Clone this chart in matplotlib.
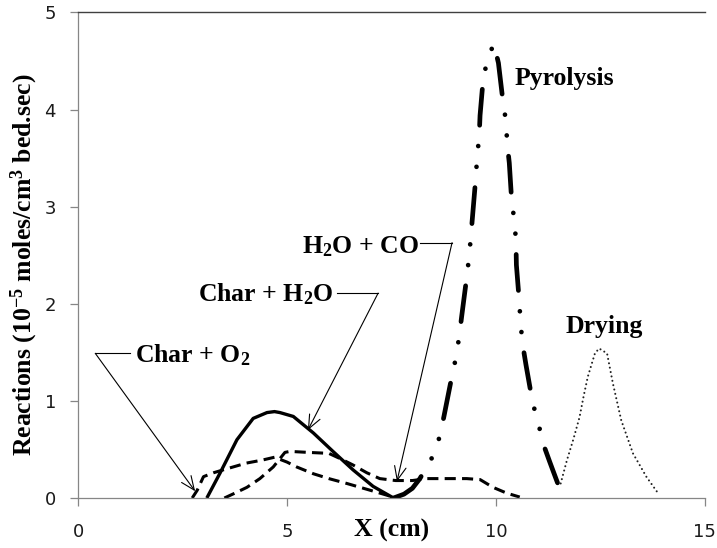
import matplotlib
matplotlib.use("Agg")
import matplotlib.pyplot as plt

# ---- data (x in cm, rate in 1e-5 moles/cm3 bed.sec) ----
char_o2_x = [2.73, 2.85, 3.0, 3.24, 3.55, 4.03, 4.4, 4.7, 5.0, 5.23, 5.63, 6.0, 6.43, 7.07, 7.54]
char_o2_y = [0.0, 0.08, 0.22, 0.26, 0.30, 0.36, 0.39, 0.42, 0.37, 0.32, 0.25, 0.20, 0.15, 0.07, 0.01]

char_h2o_x = [3.08, 3.4, 3.8, 4.19, 4.52, 4.7, 4.83, 5.15, 5.63, 6.1, 6.58, 7.06, 7.55]
char_h2o_y = [0.0, 0.26, 0.60, 0.82, 0.88, 0.89, 0.88, 0.84, 0.67, 0.48, 0.29, 0.12, 0.0]

h2o_co_x = [3.5, 3.75, 4.04, 4.35, 4.67, 4.95, 5.07, 5.5, 6.0, 6.3, 6.58, 6.91, 7.22,
            7.6, 8.0, 8.35, 8.74, 9.3, 9.62, 9.93, 10.26, 10.57]
h2o_co_y = [0.0, 0.05, 0.11, 0.20, 0.32, 0.47, 0.48, 0.47, 0.46, 0.40, 0.34, 0.26, 0.20,
            0.18, 0.18, 0.20, 0.20, 0.20, 0.19, 0.11, 0.05, 0.01]

pyrolysis_x = [7.55, 7.8, 8.0, 8.18, 8.49, 8.66, 8.76, 8.94, 9.04, 9.12, 9.18, 9.30, 9.36,
               9.44, 9.52, 9.55, 9.60, 9.62, 9.70, 9.82, 9.95, 10.06, 10.17, 10.24, 10.27,
               10.32, 10.38, 10.45, 10.48, 10.49, 10.56, 10.59, 10.64, 10.72, 10.88, 11.01,
               11.13, 11.29, 11.61]
pyrolysis_y = [0.0, 0.04, 0.10, 0.20, 0.43, 0.64, 0.85, 1.24, 1.44, 1.66, 1.87, 2.27, 2.49,
               2.90, 3.31, 3.51, 3.73, 3.94, 4.34, 4.54, 4.68, 4.48, 4.08, 3.88, 3.65,
               3.45, 3.04, 2.84, 2.62, 2.40, 2.02, 1.80, 1.58, 1.37, 0.98, 0.78,
               0.56, 0.37, 0.0]

drying_x = [11.55, 11.7, 11.85, 12.0, 12.1, 12.2, 12.37, 12.47, 12.66, 12.8, 13.0, 13.28, 13.6, 13.88]
drying_y = [0.15, 0.39, 0.60, 0.83, 1.05, 1.25, 1.49, 1.54, 1.49, 1.18, 0.80, 0.46, 0.22, 0.05]

x_ticks = [0, 5, 10, 15]
y_ticks = [0, 1, 2, 3, 4, 5]

# label text, anchor (left, baseline), leader elbow, leader start, arrow tip
callouts = [
    ("Char + O$_2$", (1.36, 1.40), (0.41, 1.49), (1.24, 1.49), (2.80, 0.07)),
    ("Char + H$_2$O", (2.87, 2.02), (7.18, 2.11), (6.20, 2.11), (5.50, 0.70)),
    ("H$_2$O + CO", (5.36, 2.52), (8.95, 2.63), (8.18, 2.63), (7.63, 0.17)),
]
plain_labels = [("Pyrolysis", (10.45, 4.25)), ("Drying", (11.67, 1.70))]

plt.rcParams["lines.scale_dashes"] = False
plt.rcParams["mathtext.fontset"] = "custom"
plt.rcParams["mathtext.rm"] = "Liberation Serif:bold"
plt.rcParams["mathtext.it"] = "Liberation Serif:bold:italic"
plt.rcParams["mathtext.bf"] = "Liberation Serif:bold"

serif_bold = dict(family="Liberation Serif", weight="bold", size=18.5)
axis_grey = "#868686"

fig = plt.figure(figsize=(7.17, 5.48), dpi=100)
ax = fig.add_axes([0.109, 0.0912, 0.874, 0.886])

ax.plot(char_o2_x, char_o2_y, color="black", lw=2.2, dashes=(8, 4.5), dash_capstyle="butt")
ax.plot(h2o_co_x, h2o_co_y, color="black", lw=2.2, dashes=(8, 4.5), dash_capstyle="butt")
ax.plot(char_h2o_x, char_h2o_y, color="black", lw=2.4, solid_capstyle="butt")
ax.plot(pyrolysis_x, pyrolysis_y, color="black", lw=3.4,
        dashes=(26, 15, 0.01, 15, 0.01, 15), dash_capstyle="round")
ax.plot(drying_x, drying_y, color="#202020", lw=1.5, dashes=(0.01, 3.2), dash_capstyle="round")

for text, anchor, elbow, start, tip in callouts:
    ax.text(anchor[0], anchor[1], text, ha="left", va="baseline", **serif_bold)
    ax.plot([start[0], elbow[0]], [start[1], elbow[1]], color="black", lw=0.8)
    ax.annotate("", xy=tip, xytext=elbow,
                arrowprops=dict(arrowstyle="->,head_length=0.7,head_width=0.3",
                                lw=0.8, color="black", shrinkA=0, shrinkB=0,
                                mutation_scale=14))

for text, anchor in plain_labels:
    ax.text(anchor[0], anchor[1], text, ha="left", va="baseline", **serif_bold)

ax.set_xlim(0, 15)
ax.set_ylim(0, 5)
ax.set_xticks(x_ticks)
ax.set_yticks(y_ticks)
ax.tick_params(axis="both", direction="out", length=6, width=0.9, color=axis_grey,
               labelsize=13, labelcolor="#1a1a1a")
ax.tick_params(axis="x", pad=12)
ax.tick_params(axis="y", pad=10)

for side in ("left", "bottom"):
    ax.spines[side].set_color(axis_grey)
    ax.spines[side].set_linewidth(0.9)
ax.spines["top"].set_color("#404040")
ax.spines["top"].set_linewidth(1.0)
ax.spines["right"].set_visible(False)

ax.set_xlabel("X (cm)", va="center", **serif_bold)
ax.xaxis.set_label_coords(0.5, -0.066)
ax.set_ylabel("Reactions (10$^{-5}$ moles/cm$^3$ bed.sec)", va="center", **serif_bold)
ax.yaxis.set_label_coords(-0.086, 0.48)

fig.savefig("out.png", dpi=100)
